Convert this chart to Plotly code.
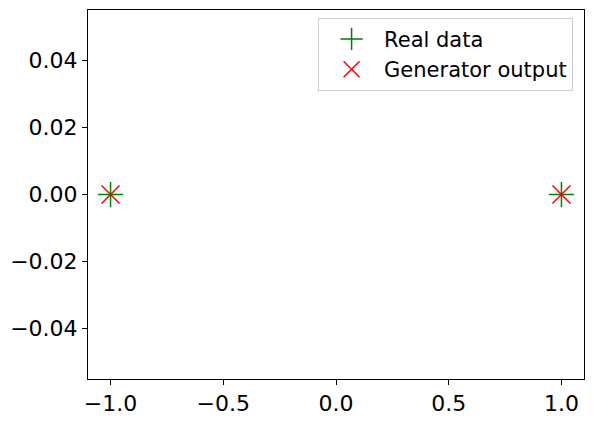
import plotly.graph_objects as go

real_x = [-1.0, 1.0]
real_y = [0.0, 0.0]
gen_x = [-1.0, 1.0]
gen_y = [0.0, 0.0]
x_ticks = [-1.0, -0.5, 0.0, 0.5, 1.0]
y_ticks = [-0.04, -0.02, 0.0, 0.02, 0.04]

fig = go.Figure()
fig.add_trace(go.Scatter(x=real_x, y=real_y, mode="markers", name="Real data",
                         marker=dict(symbol="cross-thin", size=18, color="green",
                                     line=dict(color="green", width=1.5))))
fig.add_trace(go.Scatter(x=gen_x, y=gen_y, mode="markers", name="Generator output",
                         marker=dict(symbol="x-thin", size=18, color="red",
                                     line=dict(color="red", width=1.5))))

axis_common = dict(showline=True, mirror=True, linecolor="black", linewidth=1,
                   ticks="outside", ticklen=5, tickcolor="black", showgrid=False,
                   zeroline=False, automargin=False,
                   tickfont=dict(size=22, color="black"))
fig.update_xaxes(range=[-1.1, 1.1], tickvals=x_ticks, tickformat=".1f", **axis_common)
fig.update_yaxes(range=[-0.055, 0.055], tickvals=y_ticks, tickformat=".2f", **axis_common)

fig.update_layout(
    width=593, height=422,
    margin=dict(l=88, r=9, t=10, b=43),
    plot_bgcolor="white", paper_bgcolor="white",
    font=dict(family="DejaVu Sans", size=22, color="black"),
    legend=dict(x=0.978, y=0.979, xanchor="right", yanchor="top",
                bordercolor="#cccccc", borderwidth=1, bgcolor="white",
                itemwidth=55, font=dict(size=21)),
)
fig.write_html("out.html", config={"displayModeBar": False},
               post_script="document.body.style.margin='0';")
